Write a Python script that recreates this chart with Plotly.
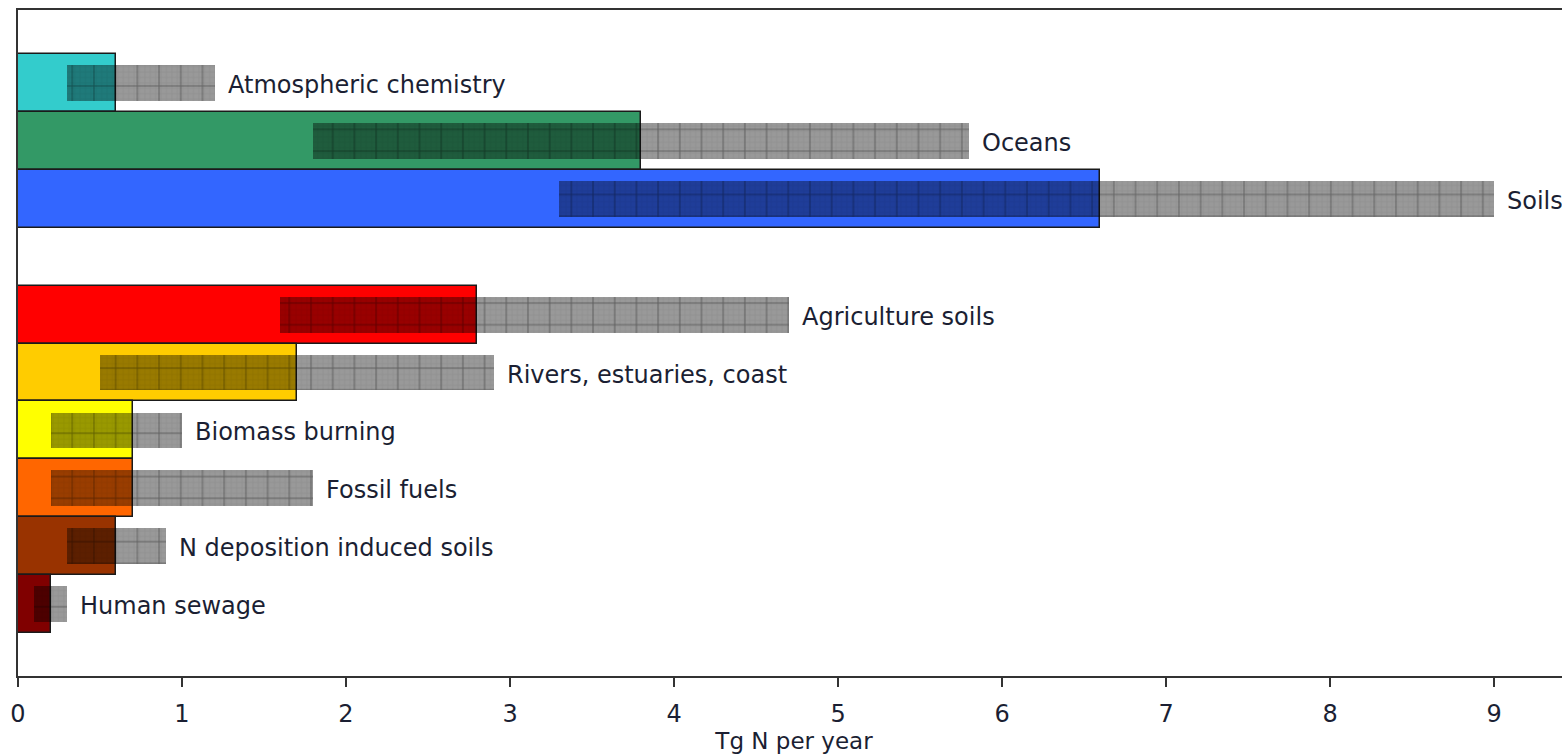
import plotly.graph_objects as go

# ---- data (Tg N per year) ----
natural_sources = ["Atmospheric chemistry", "Oceans", "Soils"]
natural_best = [0.6, 3.8, 6.6]
natural_low = [0.3, 1.8, 3.3]
natural_high = [1.2, 5.8, 9.0]
natural_colors = ["#33CCCC", "#339966", "#3366FF"]

anthro_sources = ["Agriculture soils", "Rivers, estuaries, coast", "Biomass burning",
                  "Fossil fuels", "N deposition induced soils", "Human sewage"]
anthro_best = [2.8, 1.7, 0.7, 0.7, 0.6, 0.2]
anthro_low = [1.6, 0.5, 0.2, 0.2, 0.3, 0.1]
anthro_high = [4.7, 2.9, 1.0, 1.8, 0.9, 0.3]
anthro_colors = ["#FF0000", "#FFCC00", "#FFFF00", "#FF6600", "#993300", "#800000"]

x_ticks = [0, 1, 2, 3, 4, 5, 6, 7, 8, 9]

# ---- layout of rows: natural group, one empty slot, anthropogenic group ----
sources = natural_sources + anthro_sources
best = natural_best + anthro_best
low = natural_low + anthro_low
high = natural_high + anthro_high
colors = natural_colors + anthro_colors
slot = list(range(len(natural_sources))) + [len(natural_sources) + 1 + i for i in range(len(anthro_sources))]
ypos = [-s for s in slot]

FONT = "DejaVu Sans, Verdana, sans-serif"
TXT = "#1b1f33"

fig = go.Figure()

fig.add_trace(go.Bar(
    orientation="h", y=ypos, x=best, base=[0] * len(best), width=1,
    marker=dict(color=colors, line=dict(color="#1a1a1a", width=1.5)),
    hovertext=sources, showlegend=False,
))

span = [h - l for h, l in zip(high, low)]
fig.add_trace(go.Bar(
    orientation="h", y=ypos, x=span, base=low, width=0.62,
    marker=dict(color="rgba(0,0,0,0.4)", line=dict(width=0),
                pattern=dict(shape="+", size=21.7, solidity=0.09,
                             fgcolor="rgba(0,0,0,0.7)", fillmode="overlay")),
    hovertext=sources, showlegend=False,
))
fig.add_trace(go.Bar(
    orientation="h", y=ypos, x=span, base=low, width=0.62,
    marker=dict(color="rgba(0,0,0,0)", line=dict(width=0),
                pattern=dict(shape="+", size=5.4, solidity=0.25,
                             fgcolor="rgba(0,0,0,0.12)", fillmode="overlay")),
    hoverinfo="skip", showlegend=False,
))

for name, h, y in zip(sources, high, ypos):
    fig.add_annotation(x=h, y=y, text=name, showarrow=False, xanchor="left",
                       yanchor="middle", xshift=11, yshift=-2,
                       font=dict(family=FONT, size=24, color=TXT))

# figure is a little wider than the window so the (absent) right frame stays out of view
fig.update_layout(
    width=1570, height=755,
    margin=dict(l=18, r=0, t=10, b=79),
    paper_bgcolor="white", plot_bgcolor="white",
    barmode="overlay", bargap=0,
    font=dict(family=FONT, size=24, color=TXT),
)
fig.update_xaxes(
    range=[0, 9.463], tickvals=x_ticks, ticktext=[str(v) for v in x_ticks],
    showgrid=False, zeroline=False,
    showline=True, linecolor="#333", linewidth=1.5, mirror=True,
    ticks="outside", ticklen=9, tickcolor="#333", tickwidth=1.5,
    ticklabelstandoff=6,
    tickfont=dict(family=FONT, size=24, color=TXT),
    title=dict(text="Tg N per year", font=dict(family=FONT, size=23, color=TXT), standoff=2),
)
fig.update_yaxes(
    range=[-10.24, 1.26], showticklabels=False, showgrid=False, zeroline=False,
    showline=True, linecolor="#333", linewidth=1.5, ticks="",
)

fig.write_html("out.html", config={"displayModeBar": False},
               post_script="document.body.style.margin='0';document.body.style.overflow='hidden';")
